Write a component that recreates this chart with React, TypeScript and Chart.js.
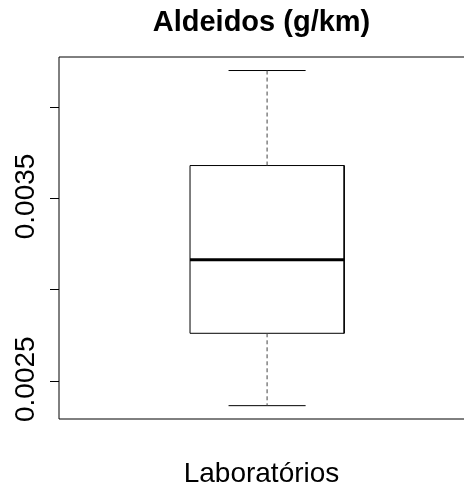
import React, { useEffect, useRef } from "react";
import { Chart, registerables } from "chart.js";

Chart.register(...registerables);

const categories = ["Laboratórios"];
const whiskerLow = [0.002366];
const q1 = [0.002762];
const median = [0.003164];
const q3 = [0.00368];
const whiskerHigh = [0.0042];
const yTicks = [0.0025, 0.003, 0.0035, 0.004];
const yTickLabels = ["0.0025", "", "0.0035", ""];
const titleText = "Aldeidos (g/km)";
const xTitle = "Laboratórios";

const FONT = "'Liberation Sans', Arial, sans-serif";

export default function App() {
  const ref = useRef<HTMLCanvasElement>(null);

  useEffect(() => {
    document.body.style.margin = "0";
    const canvas = ref.current!;
    const center = 1;
    const half = 0.2;
    const capHalf = 0.1;
    const i = 0;

    const datasets: any[] = [
      {
        label: categories[i] + " box",
        data: [
          { x: center - half, y: q1[i] },
          { x: center - half, y: q3[i] },
          { x: center + half, y: q3[i] },
          { x: center + half, y: q1[i] },
          { x: center - half, y: q1[i] },
        ],
        showLine: true,
        fill: true,
        backgroundColor: "#ffffff",
        borderColor: "#000000",
        borderWidth: 1,
        pointRadius: 0,
        tension: 0,
        order: 3,
      },
      {
        label: "median",
        data: [
          { x: center - half, y: median[i] },
          { x: center + half, y: median[i] },
        ],
        showLine: true,
        borderColor: "#000000",
        borderWidth: 3,
        borderCapStyle: "butt",
        pointRadius: 0,
        order: 1,
      },
      {
        label: "upper whisker",
        data: [
          { x: center, y: q3[i] },
          { x: center, y: whiskerHigh[i] },
        ],
        showLine: true,
        borderColor: "#444444",
        borderWidth: 1,
        borderDash: [4, 3],
        pointRadius: 0,
        order: 2,
      },
      {
        label: "lower whisker",
        data: [
          { x: center, y: q1[i] },
          { x: center, y: whiskerLow[i] },
        ],
        showLine: true,
        borderColor: "#444444",
        borderWidth: 1,
        borderDash: [4, 3],
        pointRadius: 0,
        order: 2,
      },
      {
        label: "upper cap",
        data: [
          { x: center - capHalf, y: whiskerHigh[i] },
          { x: center + capHalf, y: whiskerHigh[i] },
        ],
        showLine: true,
        borderColor: "#000000",
        borderWidth: 1,
        pointRadius: 0,
        order: 2,
      },
      {
        label: "lower cap",
        data: [
          { x: center - capHalf, y: whiskerLow[i] },
          { x: center + capHalf, y: whiskerLow[i] },
        ],
        showLine: true,
        borderColor: "#000000",
        borderWidth: 1,
        pointRadius: 0,
        order: 2,
      },
    ];

    const framePlugin = {
      id: "rframe",
      afterDraw(chart: any) {
        const { ctx, chartArea, scales } = chart;
        ctx.save();
        ctx.strokeStyle = "#000000";
        ctx.lineWidth = 1;
        ctx.beginPath();
        ctx.moveTo(chartArea.right + 5, chartArea.top);
        ctx.lineTo(chartArea.left, chartArea.top);
        ctx.lineTo(chartArea.left, chartArea.bottom);
        ctx.lineTo(chartArea.right + 5, chartArea.bottom);
        ctx.stroke();
        const y = scales.y;
        ctx.fillStyle = "#000000";
        ctx.font = `28px ${FONT}`;
        ctx.textAlign = "center";
        ctx.textBaseline = "alphabetic";
        yTicks.forEach((v, k) => {
          const lbl = yTickLabels[k];
          if (!lbl) return;
          const py = y.getPixelForValue(v);
          ctx.save();
          ctx.translate(34, py - 2);
          ctx.rotate(-Math.PI / 2);
          ctx.fillText(lbl, 0, 0);
          ctx.restore();
        });
        ctx.restore();
      },
    };

    const chart = new Chart(canvas, {
      type: "scatter",
      data: { datasets },
      options: {
        animation: false,
        responsive: false,
        devicePixelRatio: 1,
        layout: { padding: 0 },
        plugins: {
          legend: { display: false },
          tooltip: { enabled: false },
          title: {
            display: true,
            text: titleText,
            fullSize: false,
            color: "#000000",
            font: { family: FONT, size: 29, weight: "bold" },
            padding: { top: 6, bottom: 16.2 },
          },
        },
        scales: {
          x: {
            type: "linear",
            min: 0.46,
            max: 1.511,
            ticks: { display: false },
            grid: { display: false },
            border: { display: false },
            title: {
              display: true,
              text: xTitle,
              color: "#000000",
              font: { family: FONT, size: 28 },
              padding: { top: 0, bottom: 0 },
            },
            afterFit: (s: any) => {
              s.height = 72;
            },
          },
          y: {
            type: "linear",
            min: 0.002293,
            max: 0.004274,
            afterBuildTicks: (s: any) => {
              s.ticks = yTicks.map((v) => ({ value: v }));
            },
            ticks: { display: false },
            grid: {
              display: true,
              drawOnChartArea: false,
              drawTicks: true,
              tickLength: 9,
              color: "#000000",
              lineWidth: 1,
            },
            border: { display: false },
            afterFit: (s: any) => {
              s.width = 59;
            },
          },
        },
      },
      plugins: [framePlugin],
    });

    return () => chart.destroy();
  }, []);

  return <canvas ref={ref} width={464} height={491} style={{ display: "block" }} />;
}
